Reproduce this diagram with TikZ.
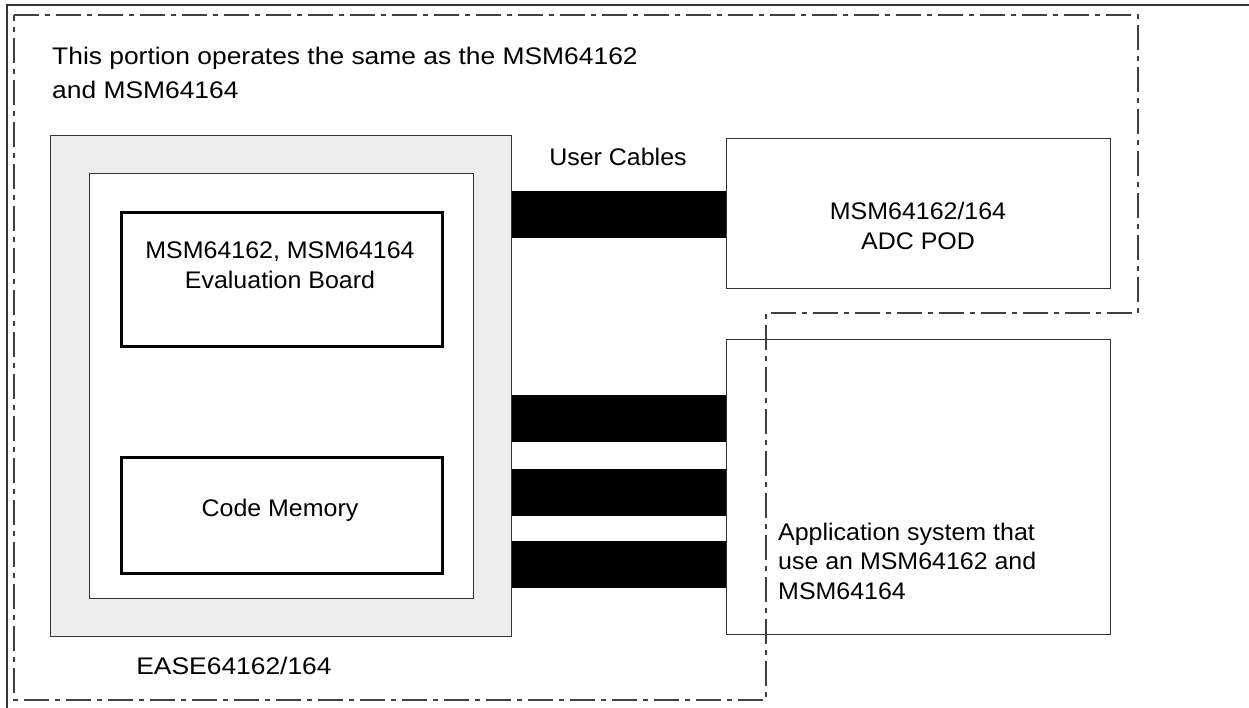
\documentclass[tikz,border=0pt]{standalone}
\usepackage{fontspec}
\setmainfont{Liberation Sans}[FakeStretch=1.04]
\newfontfamily\widefont{Liberation Sans}[FakeStretch=1.1]
\begin{document}
\begin{tikzpicture}[x=1pt,y=-1pt,
  box/.style={draw=black!80, line width=1.4pt, rectangle, inner sep=0pt, anchor=north west},
  inbox/.style={draw=black, line width=2.6pt, rectangle, inner sep=0pt, anchor=north west},
  lbl/.style={font=\fontsize{24}{29.5}\selectfont, align=center, inner sep=0pt},
  widelbl/.style={font=\widefont\fontsize{24}{34.5}\selectfont, align=left, inner sep=0pt},
  cable/.style={line width=47pt, black},
  region/.style={draw=black!75, line width=1.4pt, dash pattern=on 25pt off 6pt on 5pt off 6pt}]
\useasboundingbox (0,0) rectangle (1249,708);
% frame
\draw[line width=2.6pt, black!80] (7,708) -- (7,5) -- (1249,5);
% dash-dot region
\draw[region] (14,15) -- (1138,15) -- (1138,313) -- (766,313) -- (766,700) -- (14,700) -- cycle;
% boxes
\node[box, fill=black!7, minimum width=461, minimum height=501] (ease) at (50,135) {};
\node[box, fill=white, minimum width=384, minimum height=425] (board) at (89,173) {};
\node[inbox, minimum width=321, minimum height=134] (eval) at (120,211) {};
\node[inbox, minimum width=321, minimum height=116] (mem) at (120,456) {};
\node[box, minimum width=384, minimum height=150] (adc) at (726,138) {};
\node[box, minimum width=384, minimum height=295] (app) at (726,339) {};
% cables
\coordinate (c1) at (0,215);
\coordinate (c2) at (0,418);
\coordinate (c3) at (0,492);
\coordinate (c4) at (0,564);
\draw[cable] (ease.east |- c1) -- (adc.west |- c1);
\draw[cable] (ease.east |- c2) -- (app.west |- c2);
\draw[cable] (ease.east |- c3) -- (app.west |- c3);
\draw[cable] (ease.east |- c4) -- (app.west |- c4);
% labels
\node[widelbl, anchor=west] (title) at (52,73) {This portion operates the same as the MSM64162\\and MSM64164};
\node[lbl] (cables) at (618,157) {User Cables};
\node[lbl] (evaltxt) at (280,265) {MSM64162, MSM64164\\Evaluation Board};
\node[lbl] (memtxt) at (280,510) {Code Memory};
\node[lbl] (adctxt) at (918,226) {MSM64162/164\\ADC POD};
\node[lbl, anchor=west, align=left] (apptxt) at (778,561) {Application system that\\use an MSM64162 and\\MSM64164};
\node[widelbl] (easetxt) at (234,666) {EASE64162/164};
\end{tikzpicture}
\end{document}
